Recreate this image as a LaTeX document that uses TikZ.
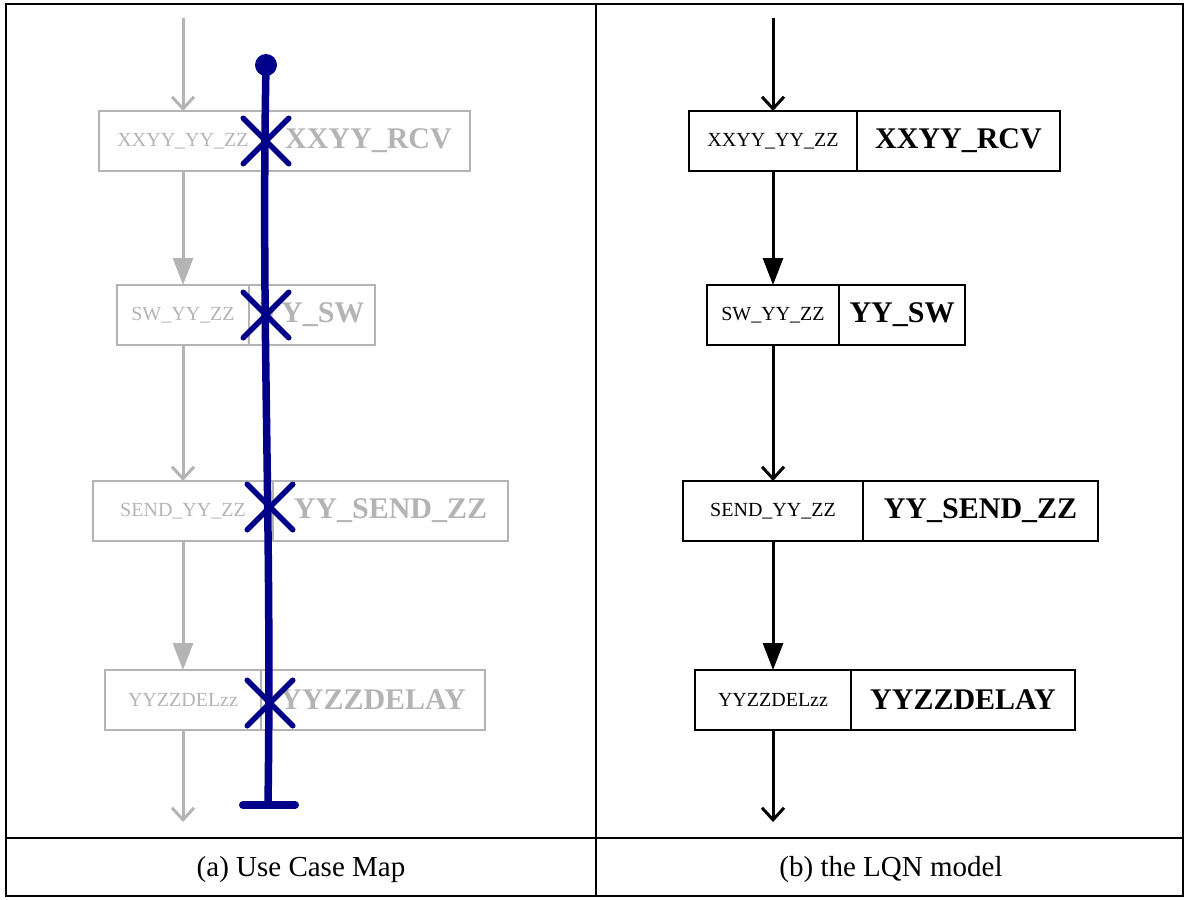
\documentclass[tikz,border=0pt]{standalone}
\usepackage{fontspec}
\setmainfont{Liberation Serif}
\usetikzlibrary{arrows.meta, positioning, shapes.misc}
\definecolor{ucmblue}{RGB}{0,0,136}
\definecolor{fadegray}{RGB}{180,180,180}
\tikzset{
  entrybox/.style={draw, line width=0.9pt, minimum height=30pt, inner xsep=3pt, outer sep=0pt,
                   font=\fontsize{10}{12}\selectfont},
  taskbox/.style={draw, line width=0.9pt, minimum height=30pt, inner xsep=3pt, outer sep=0pt,
                  font=\fontsize{15}{18}\selectfont\bfseries},
  openarr/.style={-{Straight Barb[length=6pt,width=11pt]}, line width=1.5pt},
  fillarr/.style={-{Triangle[length=13.5pt,width=10pt]}, line width=1.5pt},
  ucmpath/.style={draw=ucmblue, line width=3.75pt, line cap=round},
  respmark/.style={cross out, draw=ucmblue, line width=2.75pt, line cap=round,
                   minimum size=20pt, inner sep=0pt},
  framerule/.style={line width=1.25pt},
  captext/.style={font=\fontsize{14.5}{17}\selectfont},
}
\begin{document}
\begin{tikzpicture}[x=0.5pt, y=-0.5pt]
  \useasboundingbox (0,0) rectangle (1186,899);
  % frame and captions
  \draw[framerule] (6,4) rectangle (1183,896);
  \draw[framerule] (6,838) -- (1183,838);
  \draw[framerule] (596,4) -- (596,896);
  \node[captext] (capa) at (301,870) {(a) Use Case Map};
  \node[captext] (capb) at (891,870) {(b) the LQN model};

  % both panels: left one faded under the map, right one the model
  \foreach \p/\cx/\col in {l/183/fadegray, r/773/black} {
    \foreach \i/\y/\ew/\tw/\en/\tn in {
        1/141/84/101.5/XXYY\_YY\_ZZ/XXYY\_RCV,
        2/315/66/63/SW\_YY\_ZZ/YY\_SW,
        3/511/90/117.5/SEND\_YY\_ZZ/YY\_SEND\_ZZ,
        4/700/78/112/YYZZDELzz/YYZZDELAY} {
      \node[entrybox, draw=\col, text=\col, minimum width=\ew pt] (\p e\i) at (\cx,\y) {\en};
      \node[taskbox, draw=\col, text=\col, minimum width=\tw pt, right=0pt of \p e\i] (\p t\i) {\tn};
    }
    \coordinate (\p top) at (\cx,18);
    \coordinate (\p bot) at (\cx,822);
    \foreach \a/\b/\s in {top/e1/openarr, e1/e2/fillarr, e2/e3/openarr, e3/e4/fillarr, e4/bot/openarr}
      \draw[\s, draw=\col] (\p\a) -- (\p\b);
  }

  % use case map path
  \coordinate (ucmstart) at (266,65);
  \coordinate (ucmend) at (268,805);
  \draw[ucmpath] (ucmstart) .. controls (261,330) and (272,520) .. (ucmend);
  \node[circle, fill=ucmblue, minimum size=11pt, inner sep=0pt] (startdot) at (ucmstart) {};
  \coordinate (barl) at (243,805);
  \coordinate (barr) at (295,805);
  \draw[ucmpath, line width=4pt] (barl) -- (barr);
  \foreach \i/\mx/\my in {1/266/141, 2/266/315, 3/270/507, 4/270/703}
    \node[respmark] (resp\i) at (\mx,\my) {};
\end{tikzpicture}
\end{document}
